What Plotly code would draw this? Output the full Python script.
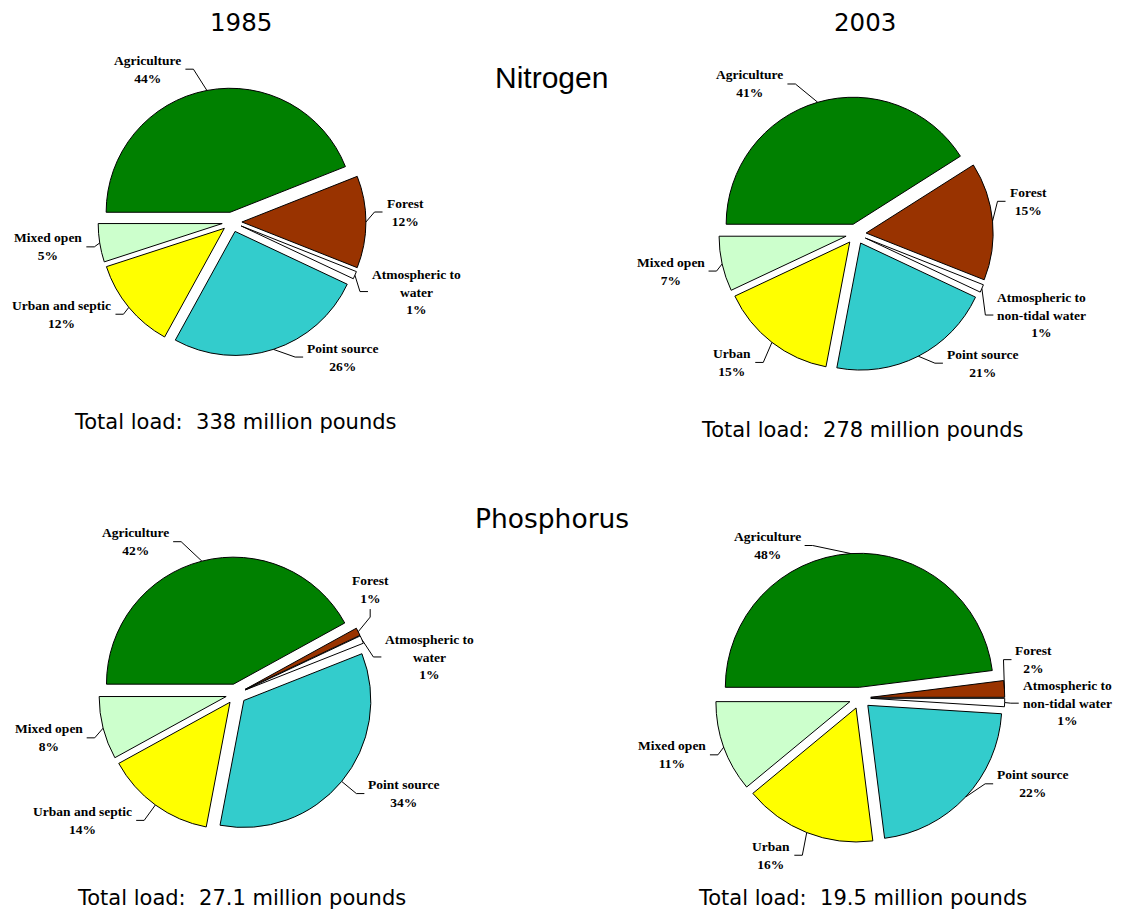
import math
import plotly.graph_objects as go

# source categories, clockwise from 9 o'clock
sources_1985 = ["Agriculture", "Forest", "Atmospheric to water", "Point source",
                "Urban and septic", "Mixed open"]
sources_2003 = ["Agriculture", "Forest", "Atmospheric to non-tidal water", "Point source",
                "Urban", "Mixed open"]
label_text_1985 = ["Agriculture", "Forest", "Atmospheric to<br>water", "Point source",
                   "Urban and septic", "Mixed open"]
label_text_2003 = ["Agriculture", "Forest", "Atmospheric to<br>non-tidal water", "Point source",
                   "Urban", "Mixed open"]

# percent of total load
nitrogen_1985 = [44, 12, 1, 26, 12, 5]
nitrogen_2003 = [41, 15, 1, 21, 15, 7]
phosphorus_1985 = [42, 1, 1, 34, 14, 8]
phosphorus_2003 = [48, 2, 1, 22, 16, 11]

years = ["1985", "2003"]
nutrients = ["Nitrogen", "Phosphorus"]
total_loads = ["338 million pounds", "278 million pounds",
               "27.1 million pounds", "19.5 million pounds"]

colors = ["#008000", "#993300", "#FFFFFF", "#33CCCC", "#FFFF00", "#CCFFCC"]

W, H = 1130, 913
PULL = 0.08
PAGE_OFF = 8  # body margin of the html page


def px(x):
    return (x - PAGE_OFF) / W


def py(y):
    return 1 - (y - PAGE_OFF) / H


# pie placement (pixel centre, radius) and label nudges per slice index
pies = [
    dict(values=nitrogen_1985, names=sources_1985, text=label_text_1985, cx=232, cy=222, r=124,
         tweaks={0: (-10, -3), 1: (-10, -10), 2: (-12, 9), 3: (16, -10), 4: (9, -5), 5: (13, 1)}),
    dict(values=nitrogen_2003, names=sources_2003, text=label_text_2003, cx=856, cy=234, r=127,
         tweaks={0: (-17, 0), 1: (-14, -18), 2: (-14, 19), 3: (8, -10), 4: (3, 5), 5: (13, 3)}),
    dict(values=phosphorus_1985, names=sources_1985, text=label_text_1985, cx=236, cy=694, r=127,
         tweaks={0: (-16, -1), 1: (-5, -6, "up"), 2: (-6, 25), 5: (10, 5)}),
    dict(values=phosphorus_2003, names=sources_2003, text=label_text_2003, cx=860, cy=698, r=134,
         tweaks={0: (-37, 12), 1: (-21, -28), 2: (-14, 0), 3: (5, -27), 4: (3, 4), 5: (13, 1)}),
]

fig = go.Figure()
annotations = []
shapes = []
label_font = dict(family="Liberation Serif", size=13.5, color="black")

for p in pies:
    cx, cy, r = p["cx"], p["cy"], p["r"]
    half = r * (1 + PULL)
    fig.add_trace(go.Pie(
        labels=p["names"],
        values=p["values"],
        sort=False,
        direction="clockwise",
        rotation=270,
        pull=[PULL] * len(p["values"]),
        marker=dict(colors=colors, line=dict(color="black", width=1)),
        textinfo="none",
        showlegend=False,
        domain=dict(x=[px(cx - half), px(cx + half)], y=[py(cy + half), py(cy - half)]),
    ))

    total = sum(p["values"])
    cum = 0
    off = PULL * r
    for i, v in enumerate(p["values"]):
        a0 = 180 - 360 * cum / total
        a1 = 180 - 360 * (cum + v) / total
        cum += v
        mid = math.radians((a0 + a1) / 2)
        ux, uy = math.cos(mid), -math.sin(mid)
        ax, ay = cx + (r + off) * ux, cy + (r + off) * uy
        ex, ey = cx + (1.15 * r + off) * ux, cy + (1.15 * r + off) * uy
        tw = p["tweaks"].get(i, (0, 0))
        ex += tw[0]
        ey += tw[1]
        mode = tw[2] if len(tw) > 2 else "side"
        txt = "<b>" + p["text"][i] + "<br>" + str(v) + "%</b>"
        if mode == "up":
            hx, hy = ex, ey - 8
            annotations.append(dict(x=px(hx), y=py(hy - 1), xref="paper", yref="paper",
                                    text=txt, showarrow=False, xanchor="center", yanchor="bottom",
                                    align="center", font=label_font))
        else:
            side = 1 if ux >= 0 else -1
            hx, hy = ex + 8 * side, ey
            annotations.append(dict(x=px(hx + 2 * side), y=py(hy), xref="paper", yref="paper",
                                    text=txt, showarrow=False,
                                    xanchor="left" if side > 0 else "right", yanchor="middle",
                                    align="center", font=label_font))
        shapes.append(dict(type="path", xref="paper", yref="paper",
                           path=f"M {px(ax)} {py(ay)} L {px(ex)} {py(ey)} L {px(hx)} {py(hy)}",
                           line=dict(color="black", width=1)))

title_font = dict(family="DejaVu Sans", color="black")
annotations += [
    dict(x=px(241), y=py(22), text=years[0], font=dict(title_font, size=24.5)),
    dict(x=px(865), y=py(22), text=years[1], font=dict(title_font, size=24.5)),
    dict(x=px(551), y=py(77), text=nutrients[0], font=dict(family="Liberation Sans", size=30, color="black")),
    dict(x=px(552), y=py(518), text=nutrients[1], font=dict(title_font, size=26.5)),
    dict(x=px(235), y=py(422), text="Total load:  " + total_loads[0], font=dict(title_font, size=21)),
    dict(x=px(862), y=py(430), text="Total load:  " + total_loads[1], font=dict(title_font, size=21)),
    dict(x=px(241), y=py(898), text="Total load:  " + total_loads[2], font=dict(title_font, size=21)),
    dict(x=px(862), y=py(898), text="Total load:  " + total_loads[3], font=dict(title_font, size=21)),
]
for a in annotations[-8:]:
    a.update(xref="paper", yref="paper", showarrow=False, xanchor="center", yanchor="middle")

fig.update_layout(
    width=W, height=H,
    margin=dict(l=0, r=0, t=0, b=0),
    paper_bgcolor="white",
    annotations=annotations,
    shapes=shapes,
)

fig.write_html("out.html")
